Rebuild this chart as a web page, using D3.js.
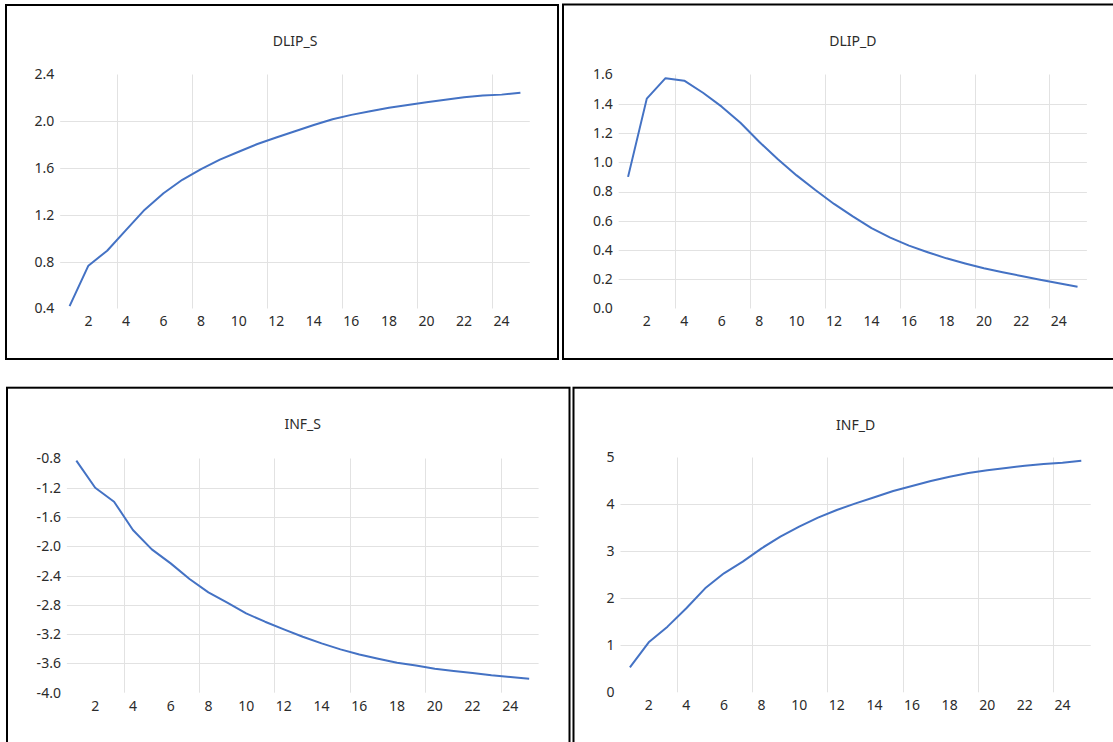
<meta charset="utf-8">
<script src="https://d3js.org/d3.v7.min.js"></script>
<style>
  body { margin: 0; background: #fff; }
  text { font-family: "Noto Sans", sans-serif; fill: #2b2b2b; }
</style>
<div id="my_dataviz"></div>

<script>
    // periods on the category axis
    const periods = [1,2,3,4,5,6,7,8,9,10,11,12,13,14,15,16,17,18,19,20,21,22,23,24,25]
    const xLabels = [2,4,6,8,10,12,14,16,18,20,22,24]
    const gridCats = [4,8,12,16,20,24]

    // responses
    const dlipS = [0.42,0.766,0.894,1.07,1.245,1.385,1.50,1.592,1.672,1.74,1.806,1.862,1.915,1.968,2.018,2.055,2.086,2.115,2.14,2.162,2.184,2.205,2.22,2.228,2.243]
    const dlipD = [0.90,1.435,1.575,1.558,1.475,1.38,1.27,1.14,1.02,0.91,0.81,0.715,0.63,0.55,0.485,0.43,0.385,0.343,0.308,0.275,0.248,0.222,0.197,0.172,0.148]
    const infS = [-0.83,-1.199,-1.39,-1.777,-2.041,-2.233,-2.447,-2.629,-2.77,-2.916,-3.03,-3.135,-3.235,-3.326,-3.408,-3.477,-3.536,-3.59,-3.627,-3.672,-3.704,-3.731,-3.763,-3.786,-3.809]
    const infD = [0.532,1.065,1.398,1.789,2.214,2.534,2.782,3.066,3.314,3.527,3.719,3.882,4.024,4.152,4.287,4.393,4.5,4.592,4.67,4.727,4.777,4.826,4.862,4.89,4.933]

    // y tick labels
    const dlipSTicks = [0.4,0.8,1.2,1.6,2.0,2.4]
    const dlipDTicks = [0,0.2,0.4,0.6,0.8,1.0,1.2,1.4,1.6]
    const infSTicks = [-4.0,-3.6,-3.2,-2.8,-2.4,-2.0,-1.6,-1.2,-0.8]
    const infDTicks = [0,1,2,3,4,5]

    const titles = ["DLIP_S","DLIP_D","INF_S","INF_D"]

    // layout of each panel (frame + plot area)
    const panels = [
      {title: titles[0], values: dlipS, ticks: dlipSTicks, dec: 1,
       frame: [6,5,552,354], x0: 60.2, x1: 529.8, top: 74.5, bot: 308.5, ty: 46},
      {title: titles[1], values: dlipD, ticks: dlipDTicks, dec: 1,
       frame: [563,4.5,600,354.5], x0: 618.7, x1: 1086.9, top: 74.5, bot: 308.5, ty: 46},
      {title: titles[2], values: infS, ticks: infSTicks, dec: 1,
       frame: [7,387.7,562.5,400], x0: 66.9, x1: 538.6, top: 458.5, bot: 692.7, ty: 428.5},
      {title: titles[3], values: infD, ticks: infDTicks, dec: 0,
       frame: [573.5,387.7,600,400], x0: 620.5, x1: 1090.7, top: 457.5, bot: 692.3, ty: 429.5}
    ]

    const width = 1113
    const height = 742

    var svg = d3.select("#my_dataviz")
      .append("svg")
      .attr("width", width)
      .attr("height", height)

    panels.forEach(function(p){
      let g = svg.append("g")

      g.append("rect")
        .attr("x", p.frame[0]).attr("y", p.frame[1])
        .attr("width", p.frame[2]).attr("height", p.frame[3])
        .attr("fill", "none")
        .attr("stroke", "#000")
        .attr("stroke-width", 2)

      var x = d3.scaleBand()
        .domain(periods)
        .range([p.x0, p.x1])
        .padding(0)
      var y = d3.scaleLinear()
        .domain([p.ticks[0], p.ticks[p.ticks.length-1]])
        .range([p.bot, p.top])

      // horizontal gridlines (interior ticks only, like the original)
      g.selectAll(".hgrid")
        .data(p.ticks.slice(1, -1))
        .enter()
        .append("line")
        .attr("x1", p.x0).attr("x2", p.x1)
        .attr("y1", d => Math.round(y(d)) + 0.5)
        .attr("y2", d => Math.round(y(d)) + 0.5)
        .attr("stroke", "#e2e2e2")
        .attr("stroke-width", 1)

      // vertical gridlines between categories
      g.selectAll(".vgrid")
        .data(gridCats)
        .enter()
        .append("line")
        .attr("x1", d => Math.round(x(d)) + 0.5)
        .attr("x2", d => Math.round(x(d)) + 0.5)
        .attr("y1", p.top).attr("y2", p.bot)
        .attr("stroke", "#e2e2e2")
        .attr("stroke-width", 1)

      const yaxis = d3.axisLeft(y)
        .tickValues(p.ticks)
        .tickSize(0)
        .tickPadding(6)
        .tickFormat(d => d.toFixed(p.dec))
      let Y = g.append("g")
        .attr("transform", "translate(" + p.x0 + ",0)")
        .style("font-size", "14px")
        .call(yaxis)
      Y.select(".domain").remove()
      Y.selectAll("text").attr("fill", "#2b2b2b")

      const xaxis = d3.axisBottom(x)
        .tickValues(xLabels)
        .tickSize(0)
        .tickPadding(8)
      let X = g.append("g")
        .attr("transform", "translate(0," + p.bot + ")")
        .style("font-size", "14px")
        .call(xaxis)
      X.select(".domain").remove()
      X.selectAll("text").attr("fill", "#2b2b2b")

      g.append("path")
        .datum(p.values)
        .attr("fill", "none")
        .attr("stroke", "#4472C4")
        .attr("stroke-width", 2)
        .attr("stroke-linejoin", "round")
        .attr("d", d3.line()
          .x((d, i) => x(periods[i]) + x.bandwidth() / 2)
          .y(d => y(d)))

      g.append("text")
        .attr("x", (p.x0 + p.x1) / 2)
        .attr("y", p.ty)
        .attr("text-anchor", "middle")
        .style("font-size", "14px")
        .text(p.title)
    })
</script>
